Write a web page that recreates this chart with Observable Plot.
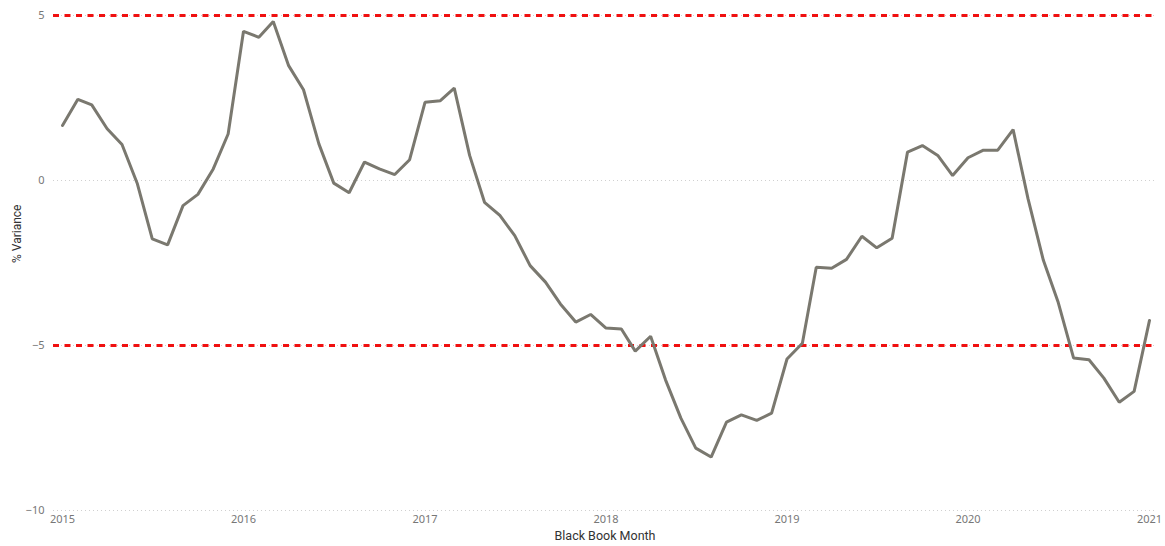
<!DOCTYPE html>
<html>
<head>
<meta charset="utf-8">
<script src="https://cdn.jsdelivr.net/npm/d3@7"></script>
<script src="https://cdn.jsdelivr.net/npm/@observablehq/plot@0.6"></script>
<style>
  html, body { margin: 0; padding: 0; background: #fff; }
</style>
</head>
<body>
<div id="chart"></div>
<script>
// Monthly % variance, Jan 2015 .. Jan 2021
const startYear = 2015;
const variance = [
  1.67, 2.46, 2.29, 1.57, 1.09, -0.10, -1.77, -1.95, -0.76, -0.42, 0.35, 1.41,
  4.52, 4.34, 4.82, 3.48, 2.75, 1.11, -0.08, -0.37, 0.56, 0.35, 0.18, 0.63,
  2.37, 2.42, 2.80, 0.76, -0.66, -1.06, -1.67, -2.58, -3.08, -3.74, -4.29, -4.06,
  -4.47, -4.50, -5.17, -4.72, -6.04, -7.20, -8.11, -8.38, -7.32, -7.10, -7.27, -7.05,
  -5.41, -4.93, -2.63, -2.66, -2.39, -1.69, -2.04, -1.75, 0.86, 1.06, 0.76, 0.15,
  0.69, 0.92, 0.92, 1.54, -0.55, -2.42, -3.70, -5.38, -5.43, -5.99, -6.72, -6.39,
  -4.24
];
const yearTicks = [2015, 2016, 2017, 2018, 2019, 2020, 2021];
const yTicks = [-10, -5, 0, 5];
const thresholds = [5, -5];
const xTitle = "Black Book Month";
const yTitle = "% Variance";

const data = variance.map((v, i) => ({ date: new Date(Date.UTC(startYear, i, 1)), value: v }));
const yearDates = yearTicks.map(y => new Date(Date.UTC(y, 0, 1)));

const chart = Plot.plot({
  width: 1165,
  height: 546,
  marginLeft: 53,
  marginRight: 9,
  marginTop: 15,
  marginBottom: 36,
  style: { fontFamily: "'Segoe UI', 'Noto Sans', sans-serif", fontSize: "11px", color: "#777", background: "#fff" },
  x: { type: "utc", domain: [yearDates[0], yearDates[yearDates.length - 1]], insetLeft: 9, insetRight: 7 },
  y: { domain: [-10, 5] },
  marks: [
    Plot.ruleY(yTicks, { stroke: "#d0d0d0", strokeWidth: 1, strokeDasharray: "1,3" }),
    Plot.ruleY(thresholds, { stroke: "#f01010", strokeWidth: 3, strokeDasharray: "6,5.5" }),
    Plot.lineY(data, { x: "date", y: "value", stroke: "#7a786f", strokeWidth: 3, strokeLinejoin: "miter" }),
    Plot.axisX({ ticks: yearDates, tickFormat: d3.utcFormat("%Y"), tickSize: 0, tickPadding: 5, label: null, fill: "#777" }),
    Plot.axisY({ ticks: yTicks, tickSize: 0, tickPadding: 9, label: null, fill: "#777" }),
    Plot.text([xTitle], { frameAnchor: "bottom", dy: 29, fontFamily: "Roboto, sans-serif", fontSize: 12.5, fill: "#333" }),
    Plot.text([yTitle], { frameAnchor: "left", dx: -36, rotate: -90, fontFamily: "Roboto, sans-serif", fontSize: 12, fill: "#333" })
  ]
});
document.getElementById("chart").appendChild(chart);
</script>
</body>
</html>
